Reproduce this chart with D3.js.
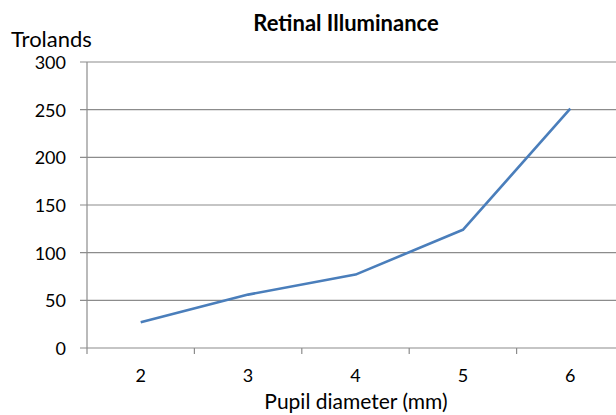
<!DOCTYPE html>
<html>
<head>
<meta charset="utf-8">
<script src="https://d3js.org/d3.v7.min.js"></script>
<style>
  body { margin: 0; background: #fff; }
  text { font-family: Lato, "Open Sans", sans-serif; fill: #000; }
</style>
</head>
<body>
<svg id="chart" width="616" height="415"></svg>
<script>
const diameters = ["2", "3", "4", "5", "6"];
const trolands = [27, 56, 77, 124, 251];
const yTicks = [0, 50, 100, 150, 200, 250, 300];

const svg = d3.select('#chart');
const plotLeft = 87, plotRight = 624, plotTop = 62, plotBottom = 348;

const x = d3.scaleBand().domain(diameters).range([plotLeft, plotRight]);
const y = d3.scaleLinear().domain([0, 300]).range([plotBottom, plotTop]);

// horizontal gridlines
svg.append('g')
  .selectAll('line')
  .data(yTicks)
  .enter().append('line')
    .attr('x1', plotLeft - 7)
    .attr('x2', plotRight)
    .attr('y1', d => y(d))
    .attr('y2', d => y(d))
    .attr('stroke', '#8c8c8c')
    .attr('stroke-width', 1.2);

// y axis line
svg.append('line')
  .attr('x1', plotLeft).attr('x2', plotLeft)
  .attr('y1', plotTop).attr('y2', plotBottom)
  .attr('stroke', '#8c8c8c').attr('stroke-width', 1.2);

// y labels
svg.append('g')
  .selectAll('text')
  .data(yTicks)
  .enter().append('text')
    .attr('x', 66)
    .attr('y', d => y(d) + 7)
    .attr('text-anchor', 'end')
    .style('font-size', '18px')
    .text(d => d);

// x tick marks at band edges
const edges = diameters.map(d => x(d)).concat([plotRight]);
svg.append('g')
  .selectAll('line')
  .data(edges)
  .enter().append('line')
    .attr('x1', d => d).attr('x2', d => d)
    .attr('y1', plotBottom).attr('y2', plotBottom + 6)
    .attr('stroke', '#8c8c8c').attr('stroke-width', 1.2);

// x labels
svg.append('g')
  .selectAll('text')
  .data(diameters)
  .enter().append('text')
    .attr('x', d => x(d) + x.bandwidth() / 2)
    .attr('y', 382)
    .attr('text-anchor', 'middle')
    .style('font-size', '18px')
    .text(d => d);

// line
const line = d3.line()
  .x((d, i) => x(diameters[i]) + x.bandwidth() / 2)
  .y(d => y(d));

svg.append('path')
  .datum(trolands)
  .attr('d', line)
  .attr('fill', 'none')
  .attr('stroke', '#4a7ebb')
  .attr('stroke-width', 2.6)
  .attr('stroke-linejoin', 'round');

// titles
svg.append('text')
  .attr('x', 346).attr('y', 31)
  .attr('text-anchor', 'middle')
  .style('font-size', '22px')
  .style('font-weight', 'bold')
  .text('Retinal Illuminance');

svg.append('text')
  .attr('x', 11).attr('y', 47)
  .style('font-size', '22px')
  .text('Trolands');

svg.append('text')
  .attr('x', 356).attr('y', 409)
  .attr('text-anchor', 'middle')
  .style('font-size', '21px')
  .text('Pupil diameter (mm)');
</script>
</body>
</html>
